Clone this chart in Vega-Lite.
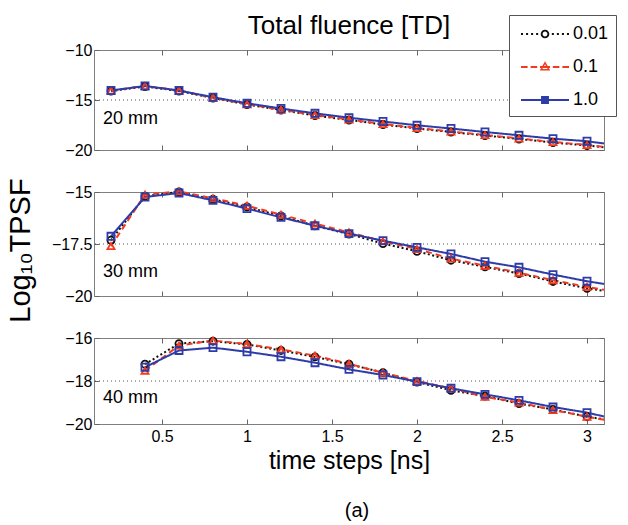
{
  "$schema": "https://vega.github.io/schema/vega-lite/v6.json",
  "padding": {"left": 5, "top": 12, "right": 0, "bottom": 5},
  "background": "white",
  "config": {
    "font": "Liberation Sans",
    "view": {"stroke": "#7f7f7f", "strokeWidth": 1},
    "axis": {
      "labelFont": "Liberation Sans", "labelFontSize": 16, "labelColor": "#000",
      "titleFont": "Liberation Sans", "titleFontWeight": "normal", "titleColor": "#000",
      "domain": false, "grid": false, "tickColor": "#666", "tickSize": -5, "tickWidth": 1, "labelPadding": 7
    }
  },
  "datasets": {
    "d": [
      {"p":"20","f":"0.01","t":0.2,"v":-14.1},{"p":"20","f":"0.01","t":0.4,"v":-13.65},{"p":"20","f":"0.01","t":0.6,"v":-14.1},{"p":"20","f":"0.01","t":0.8,"v":-14.8},{"p":"20","f":"0.01","t":1.0,"v":-15.45},{"p":"20","f":"0.01","t":1.2,"v":-16.0},{"p":"20","f":"0.01","t":1.4,"v":-16.55},{"p":"20","f":"0.01","t":1.6,"v":-17.0},{"p":"20","f":"0.01","t":1.8,"v":-17.45},{"p":"20","f":"0.01","t":2.0,"v":-17.85},{"p":"20","f":"0.01","t":2.2,"v":-18.2},{"p":"20","f":"0.01","t":2.4,"v":-18.55},{"p":"20","f":"0.01","t":2.6,"v":-18.9},{"p":"20","f":"0.01","t":2.8,"v":-19.25},{"p":"20","f":"0.01","t":3.0,"v":-19.55},{"p":"20","f":"0.01","t":3.1,"v":-19.72},
      {"p":"20","f":"0.1","t":0.2,"v":-14.05},{"p":"20","f":"0.1","t":0.4,"v":-13.6},{"p":"20","f":"0.1","t":0.6,"v":-14.05},{"p":"20","f":"0.1","t":0.8,"v":-14.78},{"p":"20","f":"0.1","t":1.0,"v":-15.42},{"p":"20","f":"0.1","t":1.2,"v":-15.97},{"p":"20","f":"0.1","t":1.4,"v":-16.5},{"p":"20","f":"0.1","t":1.6,"v":-16.95},{"p":"20","f":"0.1","t":1.8,"v":-17.4},{"p":"20","f":"0.1","t":2.0,"v":-17.8},{"p":"20","f":"0.1","t":2.2,"v":-18.15},{"p":"20","f":"0.1","t":2.4,"v":-18.5},{"p":"20","f":"0.1","t":2.6,"v":-18.85},{"p":"20","f":"0.1","t":2.8,"v":-19.2},{"p":"20","f":"0.1","t":3.0,"v":-19.5},{"p":"20","f":"0.1","t":3.1,"v":-19.68},
      {"p":"20","f":"1.0","t":0.2,"v":-14.05},{"p":"20","f":"1.0","t":0.4,"v":-13.6},{"p":"20","f":"1.0","t":0.6,"v":-14.05},{"p":"20","f":"1.0","t":0.8,"v":-14.72},{"p":"20","f":"1.0","t":1.0,"v":-15.33},{"p":"20","f":"1.0","t":1.2,"v":-15.85},{"p":"20","f":"1.0","t":1.4,"v":-16.33},{"p":"20","f":"1.0","t":1.6,"v":-16.77},{"p":"20","f":"1.0","t":1.8,"v":-17.15},{"p":"20","f":"1.0","t":2.0,"v":-17.53},{"p":"20","f":"1.0","t":2.2,"v":-17.85},{"p":"20","f":"1.0","t":2.4,"v":-18.2},{"p":"20","f":"1.0","t":2.6,"v":-18.53},{"p":"20","f":"1.0","t":2.8,"v":-18.87},{"p":"20","f":"1.0","t":3.0,"v":-19.12},{"p":"20","f":"1.0","t":3.1,"v":-19.35},
      {"p":"30","f":"0.01","t":0.2,"v":-17.32},{"p":"30","f":"0.01","t":0.4,"v":-15.2},{"p":"30","f":"0.01","t":0.6,"v":-15.0},{"p":"30","f":"0.01","t":0.8,"v":-15.35},{"p":"30","f":"0.01","t":1.0,"v":-15.72},{"p":"30","f":"0.01","t":1.2,"v":-16.15},{"p":"30","f":"0.01","t":1.4,"v":-16.63},{"p":"30","f":"0.01","t":1.6,"v":-17.02},{"p":"30","f":"0.01","t":1.8,"v":-17.48},{"p":"30","f":"0.01","t":2.0,"v":-17.85},{"p":"30","f":"0.01","t":2.2,"v":-18.28},{"p":"30","f":"0.01","t":2.4,"v":-18.6},{"p":"30","f":"0.01","t":2.6,"v":-18.92},{"p":"30","f":"0.01","t":2.8,"v":-19.3},{"p":"30","f":"0.01","t":3.0,"v":-19.63},{"p":"30","f":"0.01","t":3.1,"v":-19.75},
      {"p":"30","f":"0.1","t":0.2,"v":-17.6},{"p":"30","f":"0.1","t":0.4,"v":-15.13},{"p":"30","f":"0.1","t":0.6,"v":-14.97},{"p":"30","f":"0.1","t":0.8,"v":-15.3},{"p":"30","f":"0.1","t":1.0,"v":-15.66},{"p":"30","f":"0.1","t":1.2,"v":-16.09},{"p":"30","f":"0.1","t":1.4,"v":-16.52},{"p":"30","f":"0.1","t":1.6,"v":-16.94},{"p":"30","f":"0.1","t":1.8,"v":-17.37},{"p":"30","f":"0.1","t":2.0,"v":-17.74},{"p":"30","f":"0.1","t":2.2,"v":-18.2},{"p":"30","f":"0.1","t":2.4,"v":-18.55},{"p":"30","f":"0.1","t":2.6,"v":-18.88},{"p":"30","f":"0.1","t":2.8,"v":-19.24},{"p":"30","f":"0.1","t":3.0,"v":-19.56},{"p":"30","f":"0.1","t":3.1,"v":-19.7},
      {"p":"30","f":"1.0","t":0.2,"v":-17.13},{"p":"30","f":"1.0","t":0.4,"v":-15.24},{"p":"30","f":"1.0","t":0.6,"v":-15.05},{"p":"30","f":"1.0","t":0.8,"v":-15.4},{"p":"30","f":"1.0","t":1.0,"v":-15.8},{"p":"30","f":"1.0","t":1.2,"v":-16.22},{"p":"30","f":"1.0","t":1.4,"v":-16.62},{"p":"30","f":"1.0","t":1.6,"v":-17.0},{"p":"30","f":"1.0","t":1.8,"v":-17.34},{"p":"30","f":"1.0","t":2.0,"v":-17.66},{"p":"30","f":"1.0","t":2.2,"v":-17.98},{"p":"30","f":"1.0","t":2.4,"v":-18.35},{"p":"30","f":"1.0","t":2.6,"v":-18.62},{"p":"30","f":"1.0","t":2.8,"v":-18.97},{"p":"30","f":"1.0","t":3.0,"v":-19.29},{"p":"30","f":"1.0","t":3.1,"v":-19.42},
      {"p":"40","f":"0.01","t":0.4,"v":-17.22},{"p":"40","f":"0.01","t":0.6,"v":-16.26},{"p":"40","f":"0.01","t":0.8,"v":-16.15},{"p":"40","f":"0.01","t":1.0,"v":-16.3},{"p":"40","f":"0.01","t":1.2,"v":-16.58},{"p":"40","f":"0.01","t":1.4,"v":-16.88},{"p":"40","f":"0.01","t":1.6,"v":-17.22},{"p":"40","f":"0.01","t":1.8,"v":-17.61},{"p":"40","f":"0.01","t":2.0,"v":-18.05},{"p":"40","f":"0.01","t":2.2,"v":-18.43},{"p":"40","f":"0.01","t":2.4,"v":-18.7},{"p":"40","f":"0.01","t":2.6,"v":-19.05},{"p":"40","f":"0.01","t":2.8,"v":-19.32},{"p":"40","f":"0.01","t":3.0,"v":-19.66},{"p":"40","f":"0.01","t":3.1,"v":-19.78},
      {"p":"40","f":"0.1","t":0.4,"v":-17.52},{"p":"40","f":"0.1","t":0.6,"v":-16.35},{"p":"40","f":"0.1","t":0.8,"v":-16.12},{"p":"40","f":"0.1","t":1.0,"v":-16.28},{"p":"40","f":"0.1","t":1.2,"v":-16.53},{"p":"40","f":"0.1","t":1.4,"v":-16.82},{"p":"40","f":"0.1","t":1.6,"v":-17.2},{"p":"40","f":"0.1","t":1.8,"v":-17.62},{"p":"40","f":"0.1","t":2.0,"v":-18.0},{"p":"40","f":"0.1","t":2.2,"v":-18.34},{"p":"40","f":"0.1","t":2.4,"v":-18.74},{"p":"40","f":"0.1","t":2.6,"v":-19.0},{"p":"40","f":"0.1","t":2.8,"v":-19.35},{"p":"40","f":"0.1","t":3.0,"v":-19.66},{"p":"40","f":"0.1","t":3.1,"v":-19.8},
      {"p":"40","f":"1.0","t":0.4,"v":-17.36},{"p":"40","f":"1.0","t":0.6,"v":-16.58},{"p":"40","f":"1.0","t":0.8,"v":-16.45},{"p":"40","f":"1.0","t":1.0,"v":-16.64},{"p":"40","f":"1.0","t":1.2,"v":-16.87},{"p":"40","f":"1.0","t":1.4,"v":-17.15},{"p":"40","f":"1.0","t":1.6,"v":-17.46},{"p":"40","f":"1.0","t":1.8,"v":-17.72},{"p":"40","f":"1.0","t":2.0,"v":-18.03},{"p":"40","f":"1.0","t":2.2,"v":-18.34},{"p":"40","f":"1.0","t":2.4,"v":-18.62},{"p":"40","f":"1.0","t":2.6,"v":-18.9},{"p":"40","f":"1.0","t":2.8,"v":-19.21},{"p":"40","f":"1.0","t":3.0,"v":-19.47},{"p":"40","f":"1.0","t":3.1,"v":-19.65}
    ]
  },
  "vconcat": [
    {
      "width": 510, "height": 100,
      "title": {"text": "Total fluence [TD]", "fontSize": 26, "fontWeight": "normal", "font": "Liberation Sans", "color": "#000", "anchor": "middle", "baseline": "alphabetic", "offset": -18},
      "resolve": {"axis": {"x": "independent", "y": "independent"}},
      "layer": [
        {"data": {"values": [{}]}, "mark": {"type": "rule", "strokeDash": [1, 3], "color": "#555", "strokeWidth": 1},
         "encoding": {"y": {"datum": -15, "type": "quantitative", "axis": null}}},
        {"data": {"name": "d"}, "transform": [{"filter": "datum.p == '20'"}],
         "mark": {"type": "line", "strokeWidth": 2},
         "encoding": {
           "x": {"field": "t", "type": "quantitative", "scale": {"domain": [0.1, 3.1], "nice": false, "zero": false}, "axis": {"values": [0.5, 1, 1.5, 2, 2.5, 3], "labels": false, "title": null}},
           "y": {"field": "v", "type": "quantitative", "scale": {"domain": [-20, -10], "nice": false, "zero": false}, "axis": {"values": [-20, -15, -10], "format": ".3~g", "title": null}},
           "color": {"field": "f", "type": "nominal", "scale": {"domain": ["0.01", "0.1", "1.0"], "range": ["#111111", "#f23b1e", "#2e3ca8"]}, "legend": null},
           "strokeDash": {"field": "f", "type": "nominal", "scale": {"domain": ["0.01", "0.1", "1.0"], "range": [[2, 2.5], [6, 4], [1, 0]]}, "legend": null}
         }},
        {"data": {"name": "d"}, "transform": [{"filter": "datum.p == '20' && datum.t < 3.05"}],
         "mark": {"type": "point", "filled": false, "size": 50, "strokeWidth": 1.8, "opacity": 1},
         "encoding": {
           "x": {"field": "t", "type": "quantitative", "axis": null},
           "y": {"field": "v", "type": "quantitative", "axis": null},
           "color": {"field": "f", "type": "nominal", "scale": {"domain": ["0.01", "0.1", "1.0"], "range": ["#111111", "#f23b1e", "#2e3ca8"]}, "legend": null},
           "shape": {"field": "f", "type": "nominal", "scale": {"domain": ["0.01", "0.1", "1.0"], "range": ["circle", "triangle-up", "square"]}, "legend": null}
         }},
        {"data": {"values": [{}]}, "mark": {"type": "text", "text": "20 mm", "align": "left", "baseline": "middle", "fontSize": 18, "font": "Liberation Sans", "color": "#000"},
         "encoding": {
           "x": {"datum": 0.153, "type": "quantitative", "axis": {"orient": "top", "values": [0.5, 1, 1.5, 2, 2.5, 3], "labels": false, "title": null}},
           "y": {"datum": -16.9, "type": "quantitative", "axis": {"orient": "right", "values": [-20, -15, -10], "labels": false, "title": null}}
         }}
      ]
    },
    {
      "width": 510, "height": 104,
      "resolve": {"axis": {"x": "independent", "y": "independent"}, "scale": {"shape": "independent", "color": "independent"}},
      "layer": [
        {"data": {"values": [{}]}, "mark": {"type": "rule", "strokeDash": [1, 3], "color": "#555", "strokeWidth": 1},
         "encoding": {"y": {"datum": -17.5, "type": "quantitative", "axis": null}}},
        {"data": {"name": "d"}, "transform": [{"filter": "datum.p == '30'"}],
         "mark": {"type": "line", "strokeWidth": 2},
         "encoding": {
           "x": {"field": "t", "type": "quantitative", "scale": {"domain": [0.1, 3.1], "nice": false, "zero": false}, "axis": {"values": [0.5, 1, 1.5, 2, 2.5, 3], "labels": false, "title": null}},
           "y": {"field": "v", "type": "quantitative", "scale": {"domain": [-20, -15], "nice": false, "zero": false}, "axis": {"values": [-20, -17.5, -15], "format": ".3~g", "title": "Log₁₀TPSF", "titleFontSize": 29, "titleX": -65, "titleY": 58, "titleBaseline": "alphabetic"}},
           "color": {"field": "f", "type": "nominal", "scale": {"domain": ["0.01", "0.1", "1.0"], "range": ["#111111", "#f23b1e", "#2e3ca8"]}, "legend": null},
           "strokeDash": {"field": "f", "type": "nominal", "scale": {"domain": ["0.01", "0.1", "1.0"], "range": [[2, 2.5], [6, 4], [1, 0]]}, "legend": null}
         }},
        {"data": {"name": "d"}, "transform": [{"filter": "datum.p == '30' && datum.t < 3.05"}],
         "mark": {"type": "point", "filled": false, "size": 50, "strokeWidth": 1.8, "opacity": 1},
         "encoding": {
           "x": {"field": "t", "type": "quantitative", "axis": null},
           "y": {"field": "v", "type": "quantitative", "axis": null},
           "color": {"field": "f", "type": "nominal", "scale": {"domain": ["0.01", "0.1", "1.0"], "range": ["#111111", "#f23b1e", "#2e3ca8"]}, "legend": null},
           "shape": {"field": "f", "type": "nominal", "scale": {"domain": ["0.01", "0.1", "1.0"], "range": ["circle", "triangle-up", "square"]}, "legend": null}
         }},
        {"data": {"values": [{}]}, "mark": {"type": "text", "text": "30 mm", "align": "left", "baseline": "middle", "fontSize": 18, "font": "Liberation Sans", "color": "#000"},
         "encoding": {
           "x": {"datum": 0.153, "type": "quantitative", "axis": {"orient": "top", "values": [0.5, 1, 1.5, 2, 2.5, 3], "labels": false, "title": null}},
           "y": {"datum": -18.85, "type": "quantitative", "axis": {"orient": "right", "values": [-20, -17.5, -15], "labels": false, "title": null}}
         }},
        {"data": {"values": []},
         "mark": {"type": "point", "filled": true, "size": 576, "strokeWidth": 0, "opacity": 1},
         "encoding": {
           "x": {"field": "t", "type": "quantitative", "axis": null},
           "y": {"field": "v", "type": "quantitative", "axis": null},
           "color": {"field": "f", "type": "nominal", "scale": {"domain": ["0.01", "0.1", "1.0"], "range": ["#111111", "#f23b1e", "#2e3ca8"]},
             "legend": {"title": null, "orient": "none", "legendX": 415, "legendY": -177, "padding": 7, "strokeColor": "#555", "fillColor": "white", "zindex": 1,
               "symbolSize": 576, "symbolOffset": 17, "labelOffset": 16, "rowPadding": 12, "labelFontSize": 18, "labelFont": "Liberation Sans", "labelColor": "#000", "symbolStrokeWidth": 0, "symbolOpacity": 1, "symbolFillColor": "transparent"}},
           "shape": {"field": "f", "type": "nominal", "scale": {"domain": ["0.01", "0.1", "1.0"], "range": [
               "M-2,-0.09h0.17v0.18h-0.17zM-1.58,-0.09h0.17v0.18h-0.17zM-1.16,-0.09h0.17v0.18h-0.17zM-0.74,-0.09h0.17v0.18h-0.17zM0.57,-0.09h0.17v0.18h-0.17zM0.99,-0.09h0.17v0.18h-0.17zM1.41,-0.09h0.17v0.18h-0.17zM1.83,-0.09h0.17v0.18h-0.17zM0.36,0A0.36,0.36,0,1,1,-0.36,0A0.36,0.36,0,1,1,0.36,0zM0.2,0A0.2,0.2,0,1,0,-0.2,0A0.2,0.2,0,1,0,0.2,0z",
               "M-2,-0.09h0.55v0.18h-0.55zM-1.2,-0.09h0.55v0.18h-0.55zM-0.42,-0.09h0.84v0.18h-0.84zM0.65,-0.09h0.55v0.18h-0.55zM1.45,-0.09h0.55v0.18h-0.55zM0,-0.48L0.44,0.3L-0.44,0.3zM0,-0.22L-0.22,0.17L0.22,0.17z",
               "M-2,-0.09h4v0.18h-4zM-0.33,-0.33h0.66v0.66h-0.66z"]},
             "legend": {"title": null, "orient": "none", "legendX": 415, "legendY": -177, "padding": 7, "strokeColor": "#555", "fillColor": "white", "zindex": 1,
               "symbolSize": 576, "symbolOffset": 17, "labelOffset": 16, "rowPadding": 12, "labelFontSize": 18, "labelFont": "Liberation Sans", "labelColor": "#000", "symbolStrokeWidth": 0, "symbolOpacity": 1, "symbolFillColor": "transparent"}}
         }}
      ]
    },
    {
      "width": 510, "height": 86,
      "title": {"text": "(a)", "orient": "bottom", "fontSize": 20, "fontWeight": "normal", "font": "Liberation Sans", "color": "#000", "anchor": "middle", "baseline": "top", "offset": 28, "dx": 8},
      "resolve": {"axis": {"x": "independent", "y": "independent"}},
      "layer": [
        {"data": {"values": [{}]}, "mark": {"type": "rule", "strokeDash": [1, 3], "color": "#555", "strokeWidth": 1},
         "encoding": {"y": {"datum": -18, "type": "quantitative", "axis": null}}},
        {"data": {"name": "d"}, "transform": [{"filter": "datum.p == '40'"}],
         "mark": {"type": "line", "strokeWidth": 2},
         "encoding": {
           "x": {"field": "t", "type": "quantitative", "scale": {"domain": [0.1, 3.1], "nice": false, "zero": false}, "axis": {"values": [0.5, 1, 1.5, 2, 2.5, 3], "format": ".3~g", "labelPadding": 9, "title": "time steps [ns]", "titleFontSize": 25, "titleBaseline": "alphabetic", "titleY": 44}},
           "y": {"field": "v", "type": "quantitative", "scale": {"domain": [-20, -16], "nice": false, "zero": false}, "axis": {"values": [-20, -18, -16], "format": ".3~g", "title": null}},
           "color": {"field": "f", "type": "nominal", "scale": {"domain": ["0.01", "0.1", "1.0"], "range": ["#111111", "#f23b1e", "#2e3ca8"]}, "legend": null},
           "strokeDash": {"field": "f", "type": "nominal", "scale": {"domain": ["0.01", "0.1", "1.0"], "range": [[2, 2.5], [6, 4], [1, 0]]}, "legend": null}
         }},
        {"data": {"name": "d"}, "transform": [{"filter": "datum.p == '40' && datum.t < 3.05"}],
         "mark": {"type": "point", "filled": false, "size": 50, "strokeWidth": 1.8, "opacity": 1},
         "encoding": {
           "x": {"field": "t", "type": "quantitative", "axis": null},
           "y": {"field": "v", "type": "quantitative", "axis": null},
           "color": {"field": "f", "type": "nominal", "scale": {"domain": ["0.01", "0.1", "1.0"], "range": ["#111111", "#f23b1e", "#2e3ca8"]}, "legend": null},
           "shape": {"field": "f", "type": "nominal", "scale": {"domain": ["0.01", "0.1", "1.0"], "range": ["circle", "triangle-up", "square"]}, "legend": null}
         }},
        {"data": {"values": [{}]}, "mark": {"type": "text", "text": "40 mm", "align": "left", "baseline": "middle", "fontSize": 18, "font": "Liberation Sans", "color": "#000"},
         "encoding": {
           "x": {"datum": 0.153, "type": "quantitative", "axis": {"orient": "top", "values": [0.5, 1, 1.5, 2, 2.5, 3], "labels": false, "title": null}},
           "y": {"datum": -18.79, "type": "quantitative", "axis": {"orient": "right", "values": [-20, -18, -16], "labels": false, "title": null}}
         }}
      ]
    }
  ],
  "spacing": 42,
  "bounds": "flush",
  "resolve": {"scale": {"color": "independent", "shape": "independent", "strokeDash": "independent"}}
}
